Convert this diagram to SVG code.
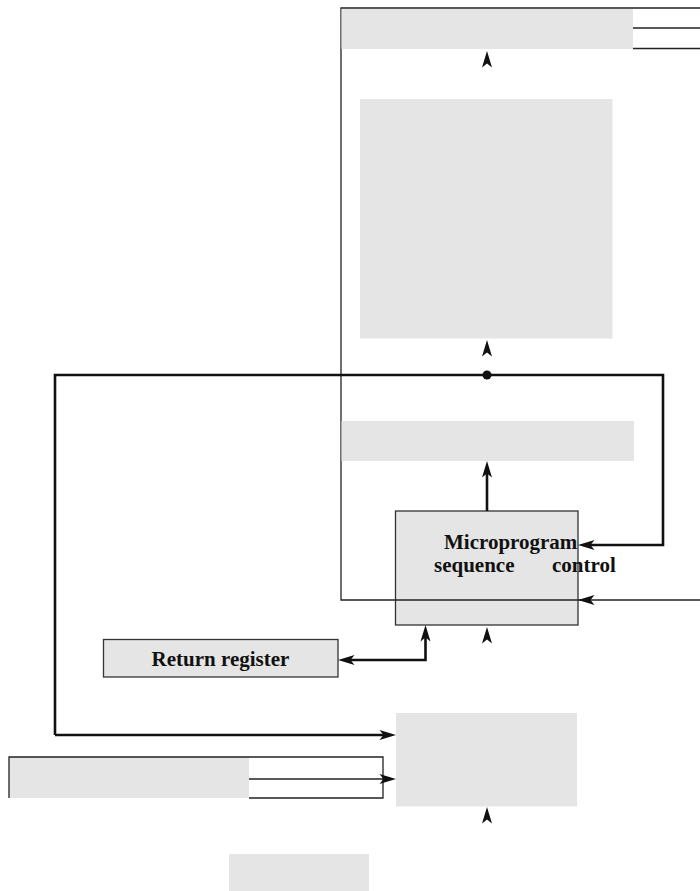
<svg xmlns="http://www.w3.org/2000/svg" width="700" height="891" viewBox="0 0 700 891">
<style>
.g{fill:#e5e5e5;stroke:none}
.box{fill:#e5e5e5;stroke:#333;stroke-width:1.3}
.thin{fill:none;stroke:#222;stroke-width:1.3}
.thick{fill:none;stroke:#111;stroke-width:2.6}
.ah{fill:#111;stroke:none}
.t{font-family:"Liberation Serif","Times New Roman",serif;font-weight:bold;font-size:21px;fill:#111}
</style>
<defs>
<path id="ah" d="M0,0 L5,16.5 L0,12.5 L-5,16.5 Z"/>
</defs>
<g id="frame">
<path class="thin" d="M702,8 H341 V600 H395"/>
</g>
<g id="top-block">
<rect class="g" x="341.5" y="9" width="291.5" height="40"/>
<path class="thin" d="M633,28 H702 M633,48.5 H702"/>
</g>
<g id="memory">
<rect class="g" x="360" y="99" width="252.5" height="239.5"/>
</g>
<g id="address-register">
<rect class="g" x="341.5" y="421" width="292.5" height="40"/>
</g>
<g id="sequencer">
<rect class="box" x="395.5" y="511" width="182.5" height="114"/>
<text class="t" x="444" y="549">Microprogram</text>
<text class="t" x="434" y="572">sequence</text>
<text class="t" x="552" y="572">control</text>
</g>
<g id="return-register">
<rect class="box" x="103.5" y="639.5" width="234.5" height="37.5"/>
<text class="t" x="220.5" y="666" text-anchor="middle">Return register</text>
</g>
<g id="mux">
<rect class="g" x="396" y="713" width="181" height="93.5"/>
</g>
<g id="left-block">
<rect class="g" x="9" y="757" width="240" height="41"/>
<path class="thin" d="M9,798 V757 H383 V798 H249"/>
</g>
<g id="bottom-block">
<rect class="g" x="229" y="854" width="140" height="37"/>
</g>
<g id="connectors">
<path class="thin" d="M395,600 H700"/>
<path class="thick" d="M55,735 V375 H663 V545 H590"/>
<path class="thick" d="M55,735 H384"/>
<path class="thin" d="M249,779 H384"/>
<path class="thick" d="M487,511 V472"/>
<path class="thick" d="M350,660 H425.5 V637"/>
<circle cx="487" cy="375" r="4.5" fill="#111"/>
<use href="#ah" class="ah" transform="translate(487,51)"/>
<use href="#ah" class="ah" transform="translate(487,340)"/>
<use href="#ah" class="ah" transform="translate(487,461)"/>
<use href="#ah" class="ah" transform="translate(487,627)"/>
<use href="#ah" class="ah" transform="translate(487,807)"/>
<use href="#ah" class="ah" transform="translate(425.5,625)"/>
<use href="#ah" class="ah" transform="translate(578,545) rotate(-90)"/>
<use href="#ah" class="ah" transform="translate(578,600) rotate(-90)"/>
<use href="#ah" class="ah" transform="translate(338,660) rotate(-90)"/>
<use href="#ah" class="ah" transform="translate(396,735) rotate(90)"/>
<use href="#ah" class="ah" transform="translate(396,779) rotate(90)"/>
</g>
</svg>
